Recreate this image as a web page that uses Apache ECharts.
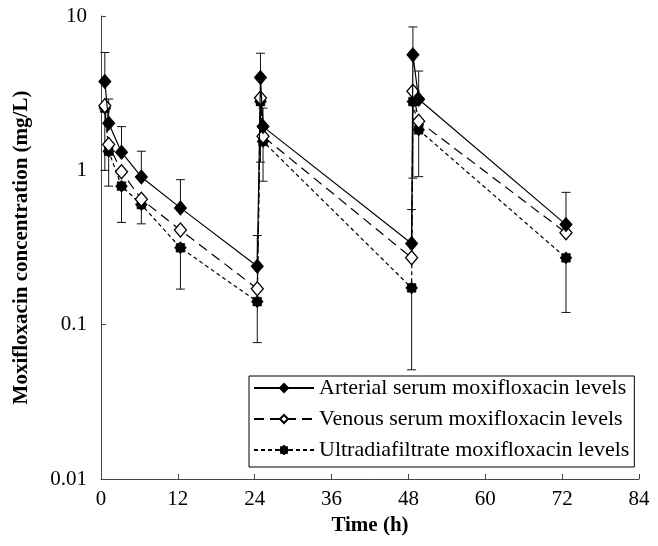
<!DOCTYPE html>
<html>
<head>
<meta charset="utf-8">
<script src="https://cdn.jsdelivr.net/npm/echarts@6/dist/echarts.min.js"></script>
<style>html,body{margin:0;padding:0;background:#fff;}#c{width:658px;height:546px;}</style>
</head>
<body>
<div id="c"></div>
<script>
// Sampling times (h)
const times = [0.6, 1.2, 3.2, 6.3, 12.4, 24.4, 24.9, 25.3, 48.5, 48.7, 49.6, 72.6];
// Concentrations (mg/L)
const arterial = [3.76, 2.02, 1.31, 0.906, 0.571, 0.239, 3.99, 1.92, 0.336, 5.6, 2.89, 0.445];
const venous   = [2.62, 1.47, 0.98, 0.65, 0.41, 0.171, 2.94, 1.66, 0.271, 3.25, 2.08, 0.394];
const ultra    = [2.53, 1.33, 0.79, 0.60, 0.315, 0.141, 2.79, 1.54, 0.173, 2.79, 1.83, 0.271];
// Error bar ends
const arterialUpper = [5.8, 2.9, 1.92, 1.33, 0.87, 0.378, 5.74, 2.53, 0.557, 8.5, 4.4, 0.72];
const ultraLower    = [1.0, 0.79, 0.46, 0.45, 0.17, 0.0765, 1.13, 0.85, 0.051, 0.89, 0.91, 0.12];
// Axis ticks
const xTicks = [0, 12, 24, 36, 48, 60, 72, 84];
const yTicks = ['0.01', '0.1', '1', '10'];
const seriesNames = ['Arterial serum moxifloxacin levels', 'Venous serum moxifloxacin levels', 'Ultradiafiltrate moxifloxacin levels'];

const FONT = 'Liberation Serif';
const pairs = (xs, ys) => xs.map((x, i) => [x, ys[i]]);

// square marker with small spikes at the middle of each edge
function spikySquarePath() {
  const pts = [];
  for (let k = 0; k < 16; k++) {
    const a = k * Math.PI / 8;
    let r;
    if (k % 4 === 0) r = 0.98;       // spike at edge middle
    else if (k % 4 === 2) r = 1.0;   // corner
    else r = 0.78;                   // edge
    pts.push([(Math.cos(a) * r * 10).toFixed(2), (Math.sin(a) * r * 10).toFixed(2)]);
  }
  return 'path://M' + pts.map(p => p.join(' ')).join(' L') + ' Z';
}
const ufSymbol = spikySquarePath();

function errRender(capAtTop) {
  return function (params, api) {
    const x = api.value(0), lo = api.value(1), hi = api.value(2);
    const p1 = api.coord([x, lo]);
    const p2 = api.coord([x, hi]);
    const cy = capAtTop ? p2[1] : p1[1];
    const w = 4.5;
    return {
      type: 'group',
      children: [
        { type: 'line', shape: { x1: p1[0], y1: p1[1], x2: p2[0], y2: p2[1] }, style: { stroke: '#111', lineWidth: 1 } },
        { type: 'line', shape: { x1: p1[0] - w, y1: cy, x2: p1[0] + w, y2: cy }, style: { stroke: '#111', lineWidth: 1 } }
      ]
    };
  };
}

const chart = echarts.init(document.getElementById('c'), null, { renderer: 'canvas' });
chart.setOption({
  animation: false,
  backgroundColor: '#fff',
  grid: { left: 101, right: 19, top: 16, bottom: 67, containLabel: false },
  legend: {
    data: seriesNames,
    orient: 'vertical',
    left: 249, top: 376,
    backgroundColor: '#fff',
    borderColor: '#000', borderWidth: 1, borderRadius: 0,
    padding: [1, 5, 6, 4],
    itemGap: 9,
    itemWidth: 60, itemHeight: 10,
    textStyle: { fontFamily: FONT, fontSize: 22, color: '#000' }
  },
  xAxis: {
    type: 'value', min: 0, max: 84, interval: 12,
    name: 'Time (h)', nameLocation: 'middle', nameGap: 28,
    nameTextStyle: { fontFamily: FONT, fontSize: 21, fontWeight: 'bold', color: '#000' },
    axisLine: { lineStyle: { color: '#444', width: 1 } },
    axisTick: { inside: true, length: 5, lineStyle: { color: '#444' } },
    axisLabel: { fontFamily: FONT, fontSize: 21, color: '#000', margin: 10,
      formatter: v => (xTicks.indexOf(v) >= 0 ? String(v) : '') },
    splitLine: { show: false }
  },
  yAxis: {
    type: 'log', logBase: 10, min: 0.01, max: 10,
    name: 'Moxifloxacin concentration (mg/L)', nameLocation: 'middle', nameGap: 69, nameRotate: 90,
    nameTextStyle: { fontFamily: FONT, fontSize: 21, fontWeight: 'bold', color: '#000' },
    axisLine: { show: true, lineStyle: { color: '#444', width: 1 } },
    axisTick: { show: true, inside: true, length: 5, lineStyle: { color: '#444' } },
    axisLabel: { fontFamily: FONT, fontSize: 21, color: '#000', margin: 14,
      formatter: v => { const s = yTicks.find(t => Math.abs(parseFloat(t) - v) / v < 1e-6); return s || ''; } },
    splitLine: { show: false },
    minorTick: { show: false }
  },
  series: [
    { type: 'custom', name: 'err-ultra', renderItem: errRender(false), encode: { x: 0, y: [1, 2] },
      data: times.map((t, i) => [t, ultraLower[i], ultra[i]]), z: 1, silent: true },
    { type: 'custom', name: 'err-art', renderItem: errRender(true), encode: { x: 0, y: [1, 2] },
      data: times.map((t, i) => [t, arterial[i], arterialUpper[i]]), z: 1, silent: true },
    { type: 'line', name: seriesNames[2], data: pairs(times, ultra), z: 3,
      symbol: ufSymbol, symbolSize: 12, showAllSymbol: true,
      lineStyle: { color: '#000', width: 1.2, type: [4, 3] },
      itemStyle: { color: '#000', borderColor: '#000', borderWidth: 0.5 } },
    { type: 'line', name: seriesNames[1], data: pairs(times, venous), z: 4,
      symbol: 'diamond', symbolSize: [12, 14], showAllSymbol: true,
      lineStyle: { color: '#000', width: 1.2, type: [10, 6] },
      itemStyle: { color: '#fff', borderColor: '#000', borderWidth: 1.3 } },
    { type: 'line', name: seriesNames[0], data: pairs(times, arterial), z: 5,
      symbol: 'diamond', symbolSize: [12, 14], showAllSymbol: true,
      lineStyle: { color: '#000', width: 1.2, type: 'solid' },
      itemStyle: { color: '#000', borderColor: '#000', borderWidth: 1 } }
  ]
});
</script>
</body>
</html>
